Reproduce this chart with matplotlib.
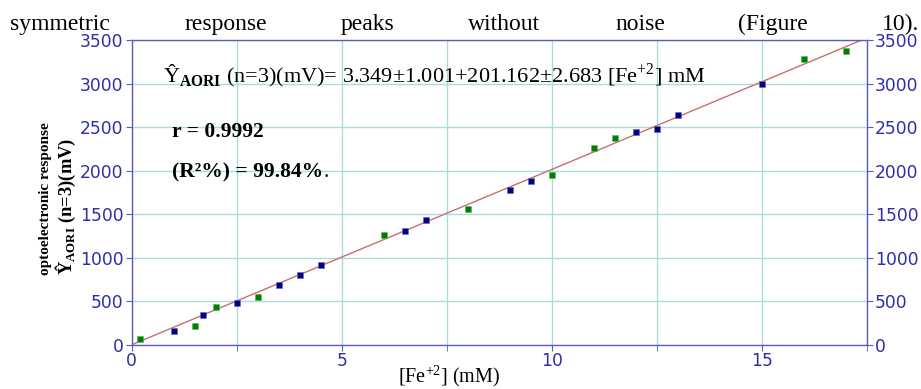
import numpy as np
import matplotlib
matplotlib.use("Agg")
import matplotlib.pyplot as plt
from matplotlib.ticker import MultipleLocator

plt.rcParams['mathtext.fontset'] = 'custom'
plt.rcParams['mathtext.rm'] = 'Liberation Serif'
plt.rcParams['mathtext.bf'] = 'Liberation Serif:bold'

# calibration points
blue_x = [1, 1.7, 2.5, 3.5, 4, 4.5, 6.5, 7, 9, 9.5, 12, 12.5, 13, 15]
blue_y = [160, 350, 480, 690, 800, 915, 1310, 1430, 1780, 1878, 2440, 2484, 2636, 3000]
green_x = [0.2, 1.5, 2, 3, 6, 8, 10, 11, 11.5, 16, 17]
green_y = [65, 220, 440, 550, 1262, 1560, 1956, 2260, 2377, 3278, 3379]
intercept = 3.349
slope = 201.162
top_words = ["symmetric", "response", "peaks", "without", "noise", "(Figure", "10)."]
word_x = [10, 184, 341, 468, 615, 738, 919]

axis_col = '#5a5ac8'
tick_col = '#2e2ea8'
grid_col = '#aadcdc'

fig = plt.figure(figsize=(9.21, 3.89), dpi=100)
ax = fig.add_axes([0.143, 0.113, 0.798, 0.784])

xx = np.array([0, 17.5])
ax.plot(xx, intercept + slope * xx, color='#c87070', lw=1.0, zorder=2)
ax.plot(blue_x, blue_y, 's', color='#000080', ms=5, mec='#6a6ab8', mew=0.4, zorder=3)
ax.plot(green_x, green_y, 's', color='#008000', ms=5, mec='#60b060', mew=0.4, zorder=3)

ax.set_xlim(0, 17.5)
ax.set_ylim(0, 3500)
ax.xaxis.set_major_locator(MultipleLocator(5))
ax.xaxis.set_minor_locator(MultipleLocator(2.5))
ax.yaxis.set_major_locator(MultipleLocator(500))
ax.grid(True, which='both', color=grid_col, lw=1.0)
ax.set_axisbelow(True)
for s in ax.spines.values():
    s.set_color(axis_col)
    s.set_linewidth(1.0)
ax.tick_params(axis='both', which='both', colors=axis_col, labelcolor=tick_col,
               labelsize=12.3, length=4, direction='out')
ax.tick_params(axis='y', right=True, labelright=True, pad=2)
ax.tick_params(axis='x', pad=1)

ax.text(0.75, 3088, "Ŷ$_{\\mathbf{AORI}}$ (n=3)(mV)= 3.349±1.001+201.162±2.683 [Fe$^{+2}$] mM",
        family='Liberation Serif', fontsize=16, va='center', ha='left')
ax.text(0.97, 2445, "r = 0.9992", family='Liberation Serif', fontsize=15.5,
        fontweight='bold', va='center', ha='left')
t = ax.text(0.97, 1985, "(R²%) = 99.84%", family='Liberation Serif', fontsize=15.5,
            fontweight='bold', va='center', ha='left')
ax.annotate(".", xy=(1, 0.5), xycoords=t, va='center', ha='left',
            family='Liberation Serif', fontsize=15.5)

fig.text(449 / 921, 1 - 376 / 389, "[Fe$^{+2}$] (mM)", family='Liberation Serif',
         fontsize=14.5, ha='center', va='center')
fig.text(45 / 921, 1 - 275 / 389, "optoelectronic response", family='Liberation Serif',
         fontsize=11, fontweight='bold', rotation=90, ha='center', va='bottom')
fig.text(66 / 921, 1 - 275 / 389, "Ŷ$_{\\mathbf{AORI}}$ (n=3)(mV)", family='Liberation Serif',
         fontsize=13.3, fontweight='bold', rotation=90, ha='center', va='bottom')

for i, (w, px) in enumerate(zip(top_words, word_x)):
    fig.text(px / 921, 1 - 30 / 389, w, family='Liberation Serif', fontsize=17,
             ha='right' if i == len(top_words) - 1 else 'left', va='baseline')

fig.savefig("out.png", dpi=100)
